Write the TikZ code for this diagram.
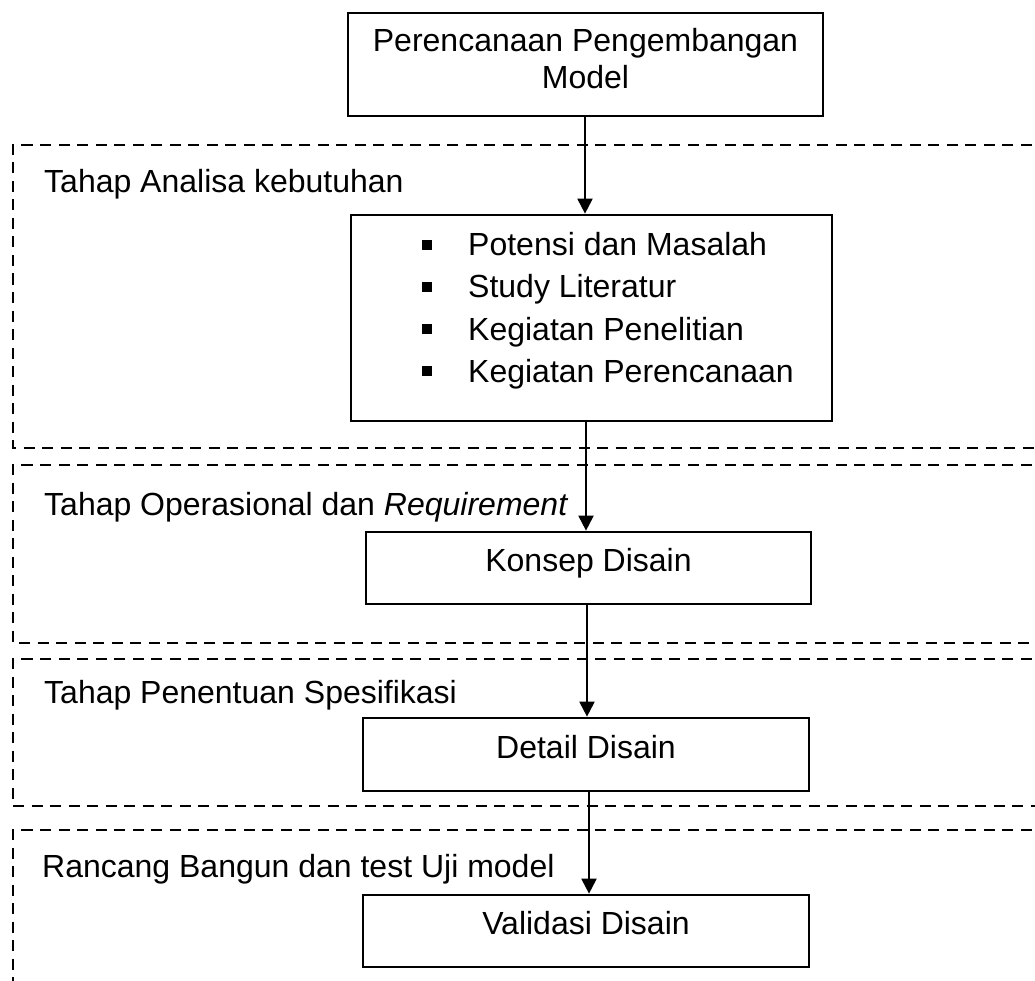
\documentclass[tikz,border=0pt]{standalone}
\usepackage{fontspec}
\setmainfont{Liberation Sans}
\usetikzlibrary{arrows.meta}
\newcommand{\bulletsq}{\makebox[46pt][l]{\rule[6pt]{10pt}{10pt}}}
\begin{document}
\begin{tikzpicture}[x=1pt,y=-1pt,
  txt/.style={font=\fontsize{32}{38}\selectfont, inner sep=0pt},
  plainbox/.style={draw, line width=2.7pt, rectangle, inner sep=0pt},
  stagebox/.style={plainbox, text height=23pt, text depth=16pt, font=\fontsize{32}{38}\selectfont},
  zone/.style={line width=2.6pt, dash pattern=on 11pt off 7.5pt},
  flow/.style={line width=2pt, -{Triangle[width=15pt,length=15pt]}}]
\useasboundingbox (0,0) rectangle (1035,981);
\clip (0,0) rectangle (1035,981);

% dashed zones
\draw[zone] (1050,145) -- (13,145) -- (13,448) -- (1050,448);
\draw[zone] (1050,465) -- (13,465) -- (13,643) -- (1050,643);
\draw[zone] (1050,659) -- (13,659) -- (13,806) -- (1050,806);
\draw[zone] (1050,830) -- (13,830) -- (13,995);

% zone titles
\node[txt, anchor=base west] (t1) at (44,193) {Tahap Analisa kebutuhan};
\node[txt, anchor=base west] (t2) at (44,515) {Tahap Operasional dan \textit{Requirement}};
\node[txt, anchor=base west] (t3) at (44,703) {Tahap Penentuan Spesifikasi};
\node[txt, anchor=base west] (t4) at (42,877) {Rancang Bangun dan test Uji model};

% boxes
\node[plainbox, minimum width=475pt, minimum height=103pt] (plan) at (585.5,64.5) {};
\node[txt, anchor=base] (plan1) at (585.5,52) {Perencanaan Pengembangan};
\node[txt, anchor=base] (plan2) at (585.5,89) {Model};

\node[plainbox, minimum width=481pt, minimum height=206pt] (list) at (591.5,318) {};
\node[txt, anchor=base west] (l1) at (422,256) {\bulletsq Potensi dan Masalah};
\node[txt, anchor=base west] (l2) at (422,298) {\bulletsq Study Literatur};
\node[txt, anchor=base west] (l3) at (422,340) {\bulletsq Kegiatan Penelitian};
\node[txt, anchor=base west] (l4) at (422,382) {\bulletsq Kegiatan Perencanaan};

\node[stagebox, minimum width=445pt, minimum height=72pt] (konsep) at (588.5,568) {Konsep Disain};
\node[stagebox, minimum width=446pt, minimum height=73pt] (detail) at (586,754.5) {Detail Disain};
\node[stagebox, minimum width=446pt, minimum height=72pt] (valid) at (586,931) {Validasi Disain};

% arrow columns
\coordinate (c1) at (585,0);
\coordinate (c2) at (586,0);
\coordinate (c3) at (587,0);
\coordinate (c4) at (589,0);

\draw[flow] (plan.south -| c1) -- (list.north -| c1);
\draw[flow] (list.south -| c2) -- (konsep.north -| c2);
\draw[flow] (konsep.south -| c3) -- (detail.north -| c3);
\draw[flow] (detail.south -| c4) -- (valid.north -| c4);
\end{tikzpicture}
\end{document}
